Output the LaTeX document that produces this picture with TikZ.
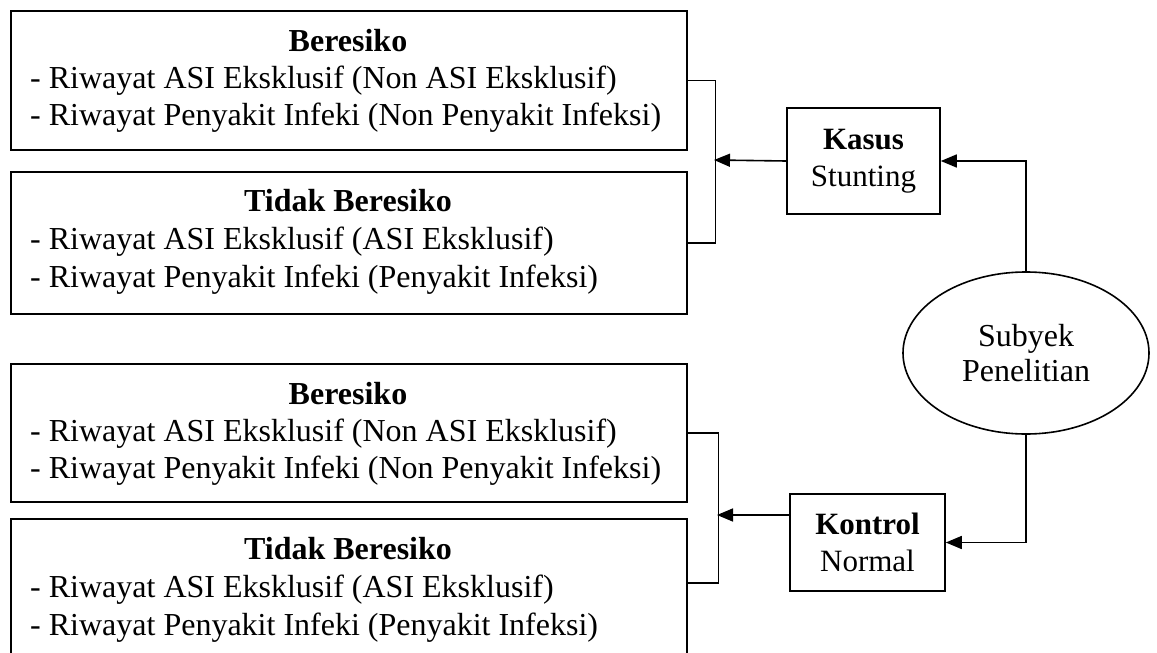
\documentclass[tikz,border=0pt]{standalone}
\usepackage{fontspec}
\setmainfont{Liberation Serif}
\usetikzlibrary{arrows.meta,shapes.geometric}
\begin{document}
\begin{tikzpicture}[x=1pt,y=-1pt,
  every node/.style={font=\fontsize{32}{37}\selectfont},
  bigbox/.style={draw,line width=1.6pt,minimum width=676pt,anchor=north west,inner sep=0pt},
  smallbox/.style={draw,line width=1.6pt,align=center,inner sep=0pt,font=\fontsize{31}{37}\selectfont},
  ttl/.style={anchor=base,inner sep=0pt,font=\fontsize{32}{37}\selectfont\bfseries},
  itm/.style={anchor=base west,inner sep=0pt},
  conn/.style={line width=1.6pt},
  arr/.style={line width=1.6pt,-{Triangle[length=16pt,width=13pt]}}
]
\useasboundingbox (0,0) rectangle (1157,653);
% boxes
\node[bigbox,minimum height=139pt] (b1) at (10,10) {};
\node[bigbox,minimum height=142pt] (b2) at (10,171) {};
\node[bigbox,minimum height=138pt] (b3) at (10,363) {};
\node[bigbox,minimum height=160pt] (b4) at (10,518) {};
% texts
\node[ttl] (t1) at (348,51) {Beresiko};
\node[itm] (l11) at (30,88) {- Riwayat ASI Eksklusif (Non ASI Eksklusif)};
\node[itm] (l12) at (30,125) {- Riwayat Penyakit Infeki (Non Penyakit Infeksi)};
\node[ttl] (t2) at (348,211) {Tidak Beresiko};
\node[itm] (l21) at (30,249) {- Riwayat ASI Eksklusif (ASI Eksklusif)};
\node[itm] (l22) at (30,287) {- Riwayat Penyakit Infeki (Penyakit Infeksi)};
\node[ttl] (t3) at (348,404) {Beresiko};
\node[itm] (l31) at (30,441) {- Riwayat ASI Eksklusif (Non ASI Eksklusif)};
\node[itm] (l32) at (30,478) {- Riwayat Penyakit Infeki (Non Penyakit Infeksi)};
\node[ttl] (t4) at (348,559) {Tidak Beresiko};
\node[itm] (l41) at (30,597) {- Riwayat ASI Eksklusif (ASI Eksklusif)};
\node[itm] (l42) at (30,635) {- Riwayat Penyakit Infeki (Penyakit Infeksi)};
% right side
\node[smallbox,minimum width=153pt,minimum height=106pt] (kasus) at (863.5,161) {\textbf{Kasus}\\Stunting};
\node[smallbox,minimum width=155pt,minimum height=97pt] (kontrol) at (867.5,542.5) {\textbf{Kontrol}\\Normal};
\node[draw,ellipse,line width=1.6pt,minimum width=246pt,minimum height=162pt,inner sep=0pt,align=center,
      font=\fontsize{32}{35}\selectfont] (subj) at (1026,353) {Subyek\\Penelitian};
% brackets
\coordinate (br1) at (714,160);
\coordinate (br2) at (717,515);
\coordinate (b4e) at (686,583);
\draw[conn] (b1.east) -- ++(28,0) |- (b2.east);
\draw[conn] (b3.east) -- ++(31,0) |- (b4e);
% arrows
\draw[arr] (kasus.west) -- (br1);
\draw[arr] (kontrol.west |- br2) -- (br2);
\draw[arr] (subj.north) |- (kasus.east);
\draw[arr] (subj.south) |- (kontrol.east);
\end{tikzpicture}
\end{document}
